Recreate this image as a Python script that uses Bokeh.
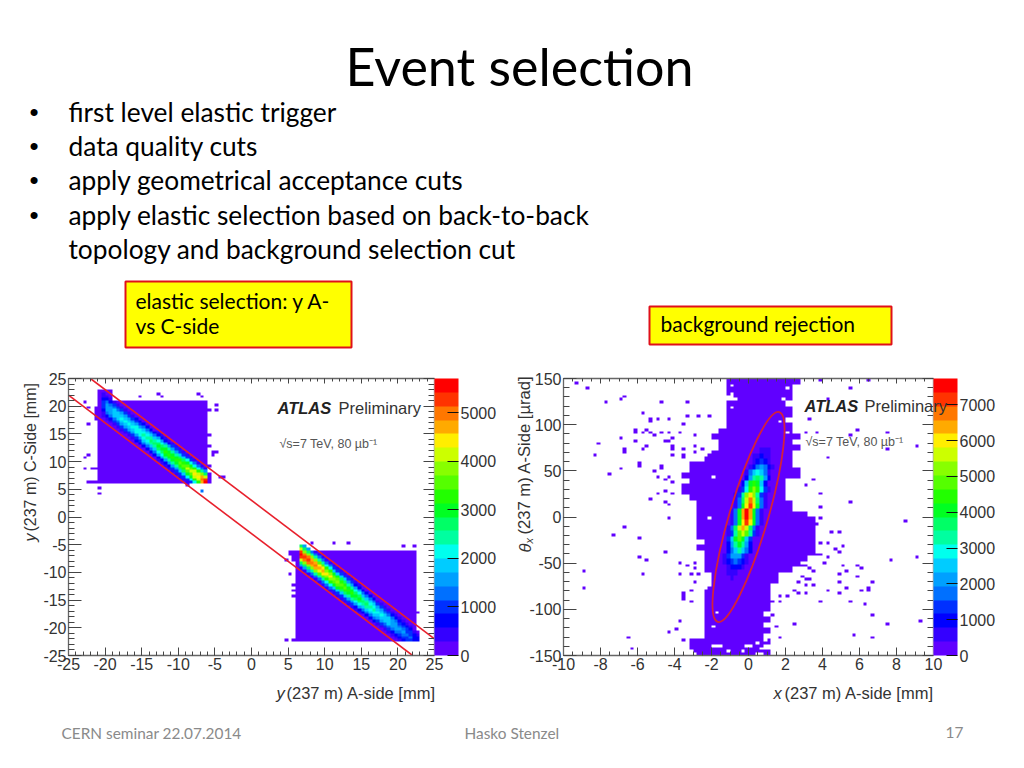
from bokeh.plotting import figure
from bokeh.layouts import column, row
from bokeh.models import (Range1d, LinearAxis, SingleIntervalTicker, FixedTicker, ColorBar,
                          LinearColorMapper, PrintfTickFormatter, CustomJSTickFormatter)
from bokeh.embed import file_html
from bokeh.resources import INLINE
from bokeh.core.properties import value
import numpy as np

# ---------------- slide text ----------------
title_text = "Event selection"
bullet_lines = ["first level elastic trigger", "data quality cuts", "apply geometrical acceptance cuts",
                "apply elastic selection based on back-to-back"]
bullet_cont = "topology and background selection cut"
box1_lines = ["elastic selection: y A-", "vs C-side"]
box2_line = "background rejection"
footer_left, footer_mid, footer_right = "CERN seminar 22.07.2014", "Hasko Stenzel", "17"

# ---------------- palette (bottom to top) ----------------
palette = ["#6000ff", "#3400ff", "#0000ff", "#0030ff", "#0070ff", "#00a0ff", "#00ccff", "#00ffee", "#00ffa0",
           "#00ff66", "#00ff22", "#22ff00", "#55ff00", "#88ff00", "#ccff00", "#ffee00", "#ffaa00", "#ff7700",
           "#ff3300", "#ff0000"]
left_max, right_max = 5711, 7737
left_bar_ticks = [0, 1000, 2000, 3000, 4000, 5000]
right_bar_ticks = [0, 1000, 2000, 3000, 4000, 5000, 6000, 7000]

# ---------------- left histogram: y(237 m) A-side vs C-side ----------------
bg = 60  # population of an occupied low-count bin
# solid blocks: xmin, xmax, ymin, ymax
left_blocks = [(-21, -6, 6, 21), (6, 22.5, -22.5, -6), (-21, -19, 21, 23),
               (-22.5, -21, 6, 6.5), (-6, -5.5, 6, 8), (5.5, 6, -8, -6), (5, 6, -7, -6),
               (22.5, 23, -22.5, -20.5), (6.5, 8, -6, -5.5), (-21.5, -21, 17.5, 20)]
left_sprinkle_x = [-22.7, -22.2, -22.2, -22.4, -22.7, -22.7, -21.7, -21.2, -20.8, -20.8, -19.2, -15.2, -12.7, -12.2,
                   -7.2, -6.7, -5.7, -4.9, -4.7, -5.7, -5.7, -5.5, -5.0, -5.5, -5.7, -4.5, -4.0, -6.7, -8.6,
                   6.7, 7.2, 8.3, 11.2, 13.2, 20.8, 22.1, 4.9, 5.6, 4.8, 5.3, 5.8, 5.8, 5.8, 22.4, 22.4, 22.8]
left_sprinkle_y = [20.8, 16.9, 19.5, 11.4, 10.8, 8.8, 8.8, 8.8, 5.3, 4.4, 22.8, 21.7, 22.3, 21.7,
                   22.3, 21.5, 19.4, 19.4, 20.3, 14.9, 12.8, 11.8, 11.8, 11.3, 9.1, 7.0, 7.0, 4.9, 5.6,
                   -5.3, -5.3, -4.8, -4.7, -4.7, -5.2, -5.2, -22.3, -22.3, -7.9, -10.2, -12.2, -13.2, -14.4,
                   -12.8, -16.2, -17.2]
# peak content of the ridge, column by column (1 mm steps)
ridge_x = [-20.5, -20, -19, -18, -17, -16, -15, -14, -13, -12, -11, -10, -9, -8, -7, -6.5,
           6.5, 7, 8, 9, 10, 11, 12, 13, 14, 15, 16, 17, 18, 19, 20, 21, 22]
ridge_peak = [1100, 1700, 1900, 2000, 2100, 2250, 2450, 2650, 2900, 3150, 3400, 3700, 4000, 4400, 5000, 5600,
              5650, 5300, 5000, 4700, 4300, 3900, 3500, 3200, 2900, 2600, 2300, 2100, 1900, 1700, 1500, 1200, 800]
# fraction of the peak, by distance from the ridge in bins along y
ridge_profile = [1.0, 0.92, 0.75, 0.5, 0.27, 0.1, 0.04]

# ---------------- right histogram: theta_x vs x ----------------
# solid rows, 6 urad high, from the top down: left and right edge
right_row_top = [150, 144, 138, 132, 126, 120, 114, 108, 102, 96, 90, 84, 78, 72, 66, 60, 54, 48, 42, 36, 30, 24, 18, 12, 6,
                 0, -6, -12, -18, -24, -30, -36, -42, -48, -54, -60, -66, -72, -78, -84, -90, -96, -102, -108, -114,
                 -120, -126, -132, -138, -144]
right_row_left = [-1.1, -1.3, -1.1, -0.9, -1.1, -1.3, -1.1, -1.3, -1.1, -1.7, -1.9, -1.5, -1.7, -1.9, -2.3, -3.3, -3.1,
                  -3.5, -3.3, -3.7, -3.5, -3.1, -2.9, -2.9, -2.7, -2.9, -2.7, -2.7, -2.9, -2.5, -2.7, -2.5, -2.3, -2.3,
                  -2.5, -2.1, -2.1, -2.1, -2.3, -2.3, -2.4, -2.5, -2.5, -2.5, -2.3, -2.3, -2.5, -3.1, -3.3, -2.7]
right_row_right = [2.7, 2.5, 2.3, 2.5, 2.1, 2.5, 2.3, 2.1, 2.3, 2.5, 2.7, 2.3, 2.7, 2.5, 2.5, 2.3, 2.9, 2.7, 2.1, 1.9, 1.9,
                   2.1, 2.5, 2.5, 3.3, 3.5, 3.5, 3.7, 3.7, 3.7, 3.6, 3.5, 3.3, 2.9, 2.3, 1.7, 1.5, 1.3, 1.1, 1.3, 1.1,
                   1.1, 0.9, 1.1, 0.9, 1.1, 0.9, 1.1, 0.7, 1.3]
right_sprinkle_x = [-9.3, -8.7, -7.7, -6.9, -6.7, -4.7, -3.3, -5.7, -5.3, -5.3, -4.9, -4.3, -3.3, -2.7, -2.1, -3.5,
                    -6.1, -6.1, -5.7, -5.3, -5.5, -5.1, -4.7, -4.3, -4.3, -3.7, -6.9, -6.1, -4.1, -2.9, -4.5, -8.1,
                    -5.5, -5.7, -6.7, -6.7, -8.3, -4.1, -4.1, -4.1, -3.5, -3.5, -3.5, -2.9, -2.9, -2.5, -2.1,
                    -5.9, -5.9, -6.9, -4.7, -4.7, -7.5, -5.1, -4.9, -4.3, -4.5, -4.1,
                    -4.9, -4.5, -4.1, -5.3, -4.5, -4.3, -4.3, -6.7, -7.3, -5.9, -5.9, -5.5, -4.5,
                    -8.9, -5.7, -8.9, -3.7, -3.3, -2.9, -2.9, -3.7, -3.1, -2.7, -2.9, -3.1, -3.5, -3.5, -3.5, -3.1,
                    -3.7, -3.9, -4.3, -6.5, -6.3, -3.2, -3.5, -2.9,
                    3.9, 6.5, 5.5, 4.3, 3.3, 5.9, 3.1, 3.7, 5.5, 7.5, 7.5, 9.1, 4.3, 3.5, 3.1, 3.9, 5.5, 3.9, 3.9, 8.5,
                    3.3, 3.7, 4.5, 4.9, 3.9, 4.3, 5.1, 4.7, 4.9, 3.9, 4.3, 5.1, 5.9, 6.1, 5.3, 4.9, 5.9, 4.9, 6.7,
                    5.3, 6.1, 6.5, 6.5, 4.9, 4.3, 3.9, 5.5, 6.3, 6.7, 9.3, 7.5, 2.5, 5.7, 6.7, 7.7, 9.1, 1.7, 1.3,
                    1.7, 2.8, 3.0, 3.2, 3.4, 2.8, 3.0, 3.2, 2.6, 3.0, 3.4, 2.4, 2.6, 3.0, 1.7, 2.0, 1.3, 1.5, 3.6, 4.0]
right_sprinkle_y = [146, 140, 125, 128, 131, 125, 125, 113, 107, 102, 107, 107, 110, 110, 110, 101,
                    95, 92, 92, 92, 95, 88, 92, 92, 81, 92, 86, 83, 86, 88, 81, 80,
                    77, 74, 73, 70, 68, 76, 72, 68, 72, 68, 64, 75, 70, 72, 66,
                    58, 55, 53, 55, 52, 46, 50, 44, 44, 39, 36,
                    26, 28, 26, 19, 16, 14, -1, -10, -19, -23, -44, -47, -38,
                    -59, -61, -77, -50, -53, -50, -56, -61, -61, -61, -71, -80, -83, -87, -90, -92,
                    -113, -122, -125, -131, -143, -140, -135, -145,
                    147, 147, 140, 128, 105, 95, 92, 92, 88, 92, 74, 77, 65, 41, 35, 26, 17, 11, -1, -4,
                    -4, -7, -16, -16, -29, -29, -31, -35, -38, -40, -44, -53, -53, -56, -59, -61, -65, -71, -71,
                    -76, -80, -76, -80, -83, -80, -92, -92, -95, -107, -113, -116, -116, -128, -131, -47, -44, -92, -92,
                    -131, -53, -53, -56, -59, -64, -67, -67, -71, -74, -74, -79, -82, -82, -86, -86, -107, -119, -41, -50]
right_hole_x = [-0.9, -0.7, 1.7, 2.1, -1.0, 1.9, 2.1, -1.9, 1.6, 2.5, -2.1, 0.5, 0.7, -0.1, -2.0, -1.7, -1.5, 0.1, 0.7,
                -0.3, 0.9, -1.9, -1.7, -0.9, 0.5, -1.1]
right_hole_y = [142, 128, 104, 91, 118, 126, 139, 43, 71, 56, -3, -148, -148, -141, -139, -139, -139, -139, -143,
                -145, -133, -118, -104, 133, -137, -146]
# colour core, row by row: y of the row, bin-centre x of the ridge, peak content
core_y = [75, 69, 63, 57, 51, 45, 39, 33, 27, 21, 15, 9, 3, -3, -9, -15, -21, -27, -33, -39, -45, -51, -57, -63, -69, -75, -81]
core_x = [0.9, 0.9, 0.7, 0.7, 0.7, 0.5, 0.5, 0.3, 0.3, 0.1, 0.1, 0.1, -0.1, -0.1, -0.1, -0.3, -0.3, -0.5, -0.5, -0.5, -0.7,
          -0.7, -0.7, -0.9, -0.9, -0.9, -1.1]
core_peak = [250, 500, 800, 1300, 2000, 2900, 3800, 4600, 5400, 6000, 6600, 7100, 7600, 7700, 7200, 6500, 5700, 4800, 4000,
             3100, 2300, 1600, 1000, 700, 450, 280, 120]
core_profile = [1.0, 0.85, 0.55, 0.25, 0.08, 0.03]

# ---------------- cut overlays ----------------
cut_upper_x, cut_upper_y = [-22, 25], [25, -22]
cut_lower_x, cut_lower_y = [-25, 22], [22, -25]
ellipse_cx, ellipse_cy = [0.0], [0.0]


def build_left():
    h = np.zeros((100, 100))
    for x0, x1, y0, y1 in left_blocks:
        i0, i1 = int(round((x0 + 25) * 2)), int(round((x1 + 25) * 2))
        j0, j1 = int(round((y0 + 25) * 2)), int(round((y1 + 25) * 2))
        h[j0:j1, i0:i1] = bg
    for x, y in zip(left_sprinkle_x, left_sprinkle_y):
        h[int((y + 25) * 2), int((x + 25) * 2)] = bg
    for x, pk in zip(ridge_x, ridge_peak):
        cols = [int((x + 25) * 2)] if x in (-20.5, -6.5, 6.5) else [int((x + 25) * 2), int((x + 25) * 2) + 1]
        for c in cols:
            cx = c / 2 - 25 + 0.25
            for k, f in enumerate(ridge_profile):
                for s in (-1, 1):
                    r = int((-cx + s * k * 0.5 + 25) * 2)
                    if h[r, c] > 0:
                        h[r, c] = max(h[r, c], pk * f)
    h[h == 0] = np.nan
    return h


def build_right():
    h = np.zeros((100, 100))
    for y1, x0, x1 in zip(right_row_top, right_row_left, right_row_right):
        j0, j1 = int(round((y1 - 6 + 150) / 3)), int(round((y1 + 150) / 3))
        i0, i1 = int(round((x0 + 10) * 5)), int(round((x1 + 10) * 5))
        h[j0:j1, i0:i1] = bg
    for x, y in zip(right_sprinkle_x, right_sprinkle_y):
        h[min(int((y + 150) / 3), 99), int((x + 10) * 5)] = bg
    for x, y in zip(right_hole_x, right_hole_y):
        h[int((y + 150) / 3), int((x + 10) * 5)] = 0
    for y, x, pk in zip(core_y, core_x, core_peak):
        c = int((x + 10) * 5)
        for r in (int((y + 150) / 3), int((y + 150) / 3) + 1):
            for k, f in enumerate(core_profile):
                for s in (-1, 1):
                    h[r, c + s * k] = max(h[r, c + s * k], pk * f)
    h[h == 0] = np.nan
    return h


LABEL_FONT = "Liberation Sans"
INK = "#333333"


def make_hist(width, left_border, right_border, xr, yr, xstep, xminor, ystep, yminor, hist, vmax, bar_ticks):
    p = figure(width=width, height=336, x_range=Range1d(*xr), y_range=Range1d(*yr), output_backend="svg",
               toolbar_location=None, min_border_left=left_border, min_border_right=right_border,
               min_border_top=8, min_border_bottom=51, x_axis_location="below", y_axis_location="left")
    p.grid.visible = False
    p.outline_line_color = None
    mapper = LinearColorMapper(palette=palette, low=0, high=vmax, nan_color=(0, 0, 0, 0))
    p.image(image=[hist], x=xr[0], y=yr[0], dw=xr[1] - xr[0], dh=yr[1] - yr[0], color_mapper=mapper)

    def style(ax, step, minor, tick_in, minor_in, labelled):
        ax.ticker = SingleIntervalTicker(interval=step, num_minor_ticks=minor)
        ax.major_tick_in, ax.major_tick_out = tick_in, 0
        ax.minor_tick_in, ax.minor_tick_out = minor_in, 0
        ax.axis_line_color = "#666666"
        ax.axis_line_width = 1.3
        ax.major_tick_line_color = "#444444"
        ax.minor_tick_line_color = "#444444"
        ax.major_label_text_font = LABEL_FONT
        ax.major_label_text_color = INK
        if labelled:
            ax.major_label_text_font_size = "16px"
            ax.major_label_standoff = 2
            ax.formatter = PrintfTickFormatter(format="%d")
        else:
            ax.major_label_text_font_size = "1px"
            ax.major_label_standoff = 0
            ax.formatter = CustomJSTickFormatter(code="return ''")

    style(p.xaxis[0], xstep, xminor, 8, 4, True)
    style(p.yaxis[0], ystep, yminor, 13, 6, True)
    top_ax = LinearAxis()
    style(top_ax, xstep, xminor, 5, 3, False)
    p.add_layout(top_ax, "above")
    side = LinearAxis()
    style(side, ystep, yminor, 11, 6, False)
    p.add_layout(side, "right")

    bar = ColorBar(color_mapper=mapper, ticker=FixedTicker(ticks=bar_ticks), width=24, margin=2, padding=0,
                   major_tick_in=11, major_tick_out=0, major_tick_line_color="#111111", minor_tick_line_color=None,
                   major_label_text_font=LABEL_FONT, major_label_text_font_size="16px",
                   major_label_text_color=INK, label_standoff=2, bar_line_color=None,
                   formatter=PrintfTickFormatter(format="%d"))
    p.add_layout(bar, "right")
    return p


# ---------------- top of the slide ----------------
top = figure(width=1016, height=370, x_range=Range1d(0, 1016), y_range=Range1d(370, 0), output_backend="svg",
             toolbar_location=None, min_border=0, x_axis_type=None, y_axis_type=None)
top.grid.visible = False
top.outline_line_color = None
SLIDE = "Lato"
top.text(x=[519], y=[65], text=[title_text], text_font=value(SLIDE), text_font_size="52px", text_align="center",
         text_baseline="middle", text_color="#000000")
top.text(x=[29] * 4, y=[111, 145, 179, 214], text=["\u2022"] * 4, text_font=value("Liberation Sans"),
         text_font_size="26px", text_baseline="middle", text_color="#000000")
top.text(x=[68] * 5, y=[111, 145, 179, 214, 248], text=bullet_lines + [bullet_cont], text_font=value(SLIDE),
         text_font_size="26.3px", text_baseline="middle", text_color="#000000")
top.quad(left=[125, 649], right=[351, 891], top=[281, 306], bottom=[347, 344], fill_color="#ffff00",
         line_color="#e0101a", line_width=2)
top.text(x=[135, 135, 660], y=[300, 325, 323], text=box1_lines + [box2_line], text_font=value(SLIDE),
         text_font_size="21px", text_baseline="middle", text_color="#000000")

# ---------------- histograms ----------------
left = make_hist(512, 68, 78, (-25, 25), (-25, 25), 5, 5, 5, 5, build_left(), left_max, left_bar_ticks)
left.line(cut_upper_x, cut_upper_y, line_color="#e8202c", line_width=1.6)
left.line(cut_lower_x, cut_lower_y, line_color="#e8202c", line_width=1.6)

right = make_hist(504, 51, 83, (-10, 10), (-150, 150), 2, 4, 50, 5, build_right(), right_max, right_bar_ticks)
right.ellipse(x=ellipse_cx, y=ellipse_cy, width=[218.6], height=[38.6], angle=[1.285], width_units="screen",
              height_units="screen", fill_color=None, line_color="#d4203c", line_width=1.8)

# ---------------- footer ----------------
foot = figure(width=1016, height=50, x_range=Range1d(0, 1016), y_range=Range1d(756, 706), output_backend="svg",
              toolbar_location=None, min_border=0, x_axis_type=None, y_axis_type=None)
foot.grid.visible = False
foot.outline_line_color = None
foot.text(x=[61, 464, 945], y=[732, 732, 732], text=[footer_left, footer_mid, footer_right], text_font=value(SLIDE),
          text_font_size="15.4px", text_baseline="middle", text_color="#8a8a8a")

# ---------------- transparent sheet on top: texts that cross the plot frames ----------------
over = figure(width=1016, height=756, x_range=Range1d(0, 1016), y_range=Range1d(756, 0), output_backend="svg",
              toolbar_location=None, min_border=0, x_axis_type=None, y_axis_type=None, margin=(-756, 0, 0, 0),
              background_fill_color=None, border_fill_color=None)
over.grid.visible = False
over.outline_line_color = None


def put(x, y, text, size, color=INK, style="normal", angle=0.0):
    over.text(x=[x], y=[y], text=[text], text_font=value(LABEL_FONT), text_font_size=size, text_color=color,
              text_font_style=style, angle=angle, text_baseline="alphabetic")


put(277, 407, "ATLAS", "16.5px", "#222222", "bold italic")
put(338, 407, "Preliminary", "16.5px")
put(279, 443, "\u221as=7 TeV, 80 \u00b5b\u207b\u00b9", "12.5px", "#555555")
put(276, 692, "y", "16.5px", style="italic")
put(286, 692, "(237 m) A-side [mm]", "16.5px")
put(30, 541, "y", "16px", style="italic", angle=1.5708)
put(30, 531, "(237 m) C-Side [mm]", "16px", angle=1.5708)

put(804, 405, "ATLAS", "16.5px", "#222222", "bold italic")
put(864, 405, "Preliminary", "16.5px")
put(805, 441, "\u221as=7 TeV, 80 \u00b5b\u207b\u00b9", "12.5px", "#555555")
put(773, 692, "x", "16.5px", style="italic")
put(784, 692, "(237 m) A-side [mm]", "16.5px")
put(524, 552, "\u03b8", "16.5px", style="italic", angle=1.5708)
put(528, 543, "x", "11px", style="italic", angle=1.5708)
put(524, 534, "(237 m) A-Side [\u00b5rad]", "16.6px", angle=1.5708)

page = column(top, row(left, right, spacing=0), foot, over, spacing=0)
open("out.html", "w").write(file_html(page, INLINE))
